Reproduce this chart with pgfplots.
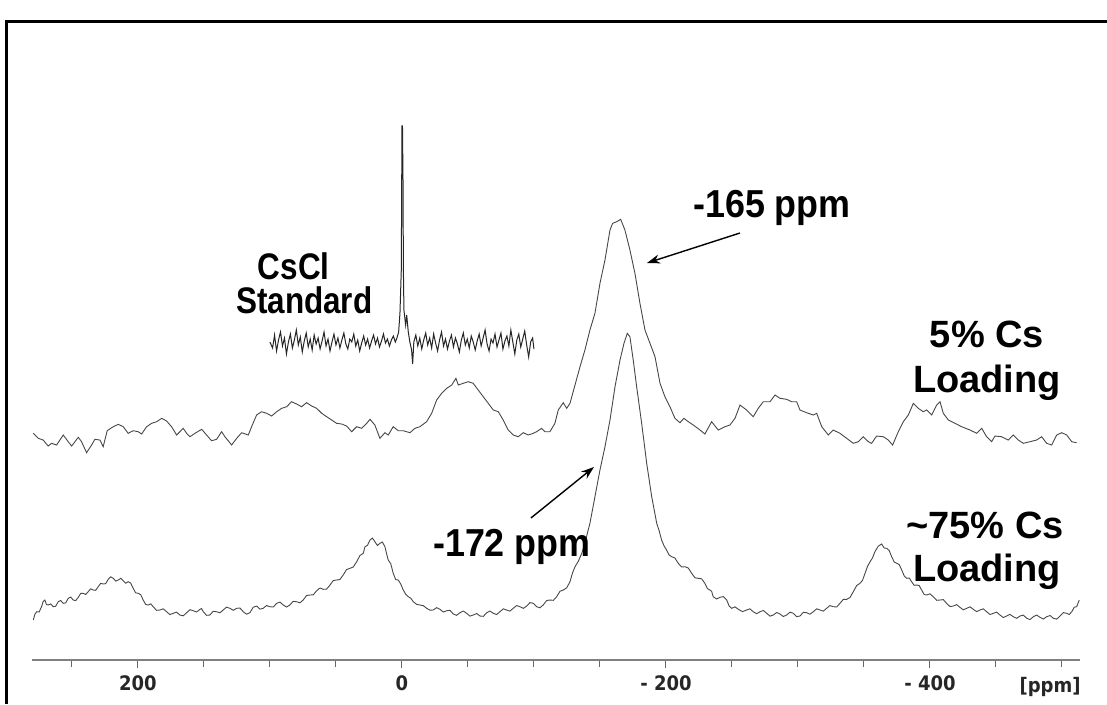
\documentclass[border=0pt]{standalone}
\usepackage{pgfplots}
\pgfplotsset{compat=1.18}
\usepackage{pgfplotstable}
\usepackage{fontspec}
\setmainfont{Liberation Sans}
\newfontfamily\tickfont{DejaVu Sans Condensed}
\usetikzlibrary{arrows.meta}

\pgfplotstableread{
ppm h
279.3 226.7
275.5 221.7
271.8 220
268.0 214
265.4 216.7
261.6 215
256.6 225
252.8 218.3
250.2 214
245.2 222.7
242.7 218.3
238.9 207.3
235.1 215
232.6 220.7
228.8 220
226.3 213.3
223.3 229.3
218.7 233.3
214.9 235.7
211.1 233.3
207.4 226.7
203.6 229.3
199.8 228.3
197.2 226
193.4 233.3
189.6 236.7
185.8 238.3
182.0 241.7
178.3 239
174.5 233.3
170.7 225
168.2 228.3
165.7 231.7
163.1 226.7
160.6 223.3
156.8 226.7
151.7 230.7
148.0 225
144.2 219.3
140.4 220.7
136.6 228.3
134.1 223.3
129.0 215
125.2 221.7
121.4 227.3
116.4 225
113.9 233.3
110.1 245
106.3 248.3
102.5 246.7
98.7 244
94.9 248.3
91.1 251.7
87.3 253.3
83.6 258.3
79.8 256
76.0 253.3
72.2 257.3
68.4 254
64.6 251.7
60.8 246.7
57.0 243.3
53.3 240
49.5 236.7
45.7 236
41.9 234
38.1 228.3
34.3 233.3
30.5 231.7
26.7 236.7
24.2 240.7
20.5 235
16.7 221.7
12.9 227.3
10.4 225
6.6 233.3
2.8 229.3
-1.0 229.3
-6.1 227.3
-9.8 231.7
-13.6 233.3
-18.7 238.3
-22.5 246.7
-26.3 260
-30.1 266.7
-33.9 271.7
-37.7 275
-40.9 281.7
-42.7 275
-46.4 276.7
-50.2 278.3
-54.0 276.7
-57.8 270
-61.6 263.3
-65.4 256.7
-69.2 250
-73.0 248.3
-76.7 240
-80.5 230
-84.3 225
-88.1 223.3
-91.9 227.3
-95.7 225
-99.5 226.7
-102.0 228.3
-105.8 231.7
-108.3 228.3
-112.1 228.3
-115.9 236.7
-118.4 250
-122.2 257.3
-124.8 251.7
-127.3 256.7
-131.1 275
-134.9 293.3
-138.6 310
-142.4 330
-146.2 346.7
-150.0 376.7
-153.8 400
-157.6 430
-159.6 436.7
-162.7 438.3
-165.7 440.7
-168.9 430
-172.7 410
-176.5 386.7
-180.3 356.7
-184.1 330
-187.9 316.7
-191.7 303.3
-195.5 276.7
-199.2 263.3
-203.0 253.3
-206.8 241.7
-210.6 237.3
-213.6 241.7
-216.9 238.3
-220.7 235
-225.8 230
-229.5 226
-234.6 238.3
-239.6 230
-244.7 233.3
-248.5 235
-252.3 241.7
-256.1 255
-261.1 250
-266.1 243.3
-269.9 251.7
-273.7 258.3
-278.8 258.3
-282.6 265
-286.4 261.7
-291.4 260.7
-295.2 258.3
-299.0 258.3
-301.5 250
-306.6 247.3
-311.6 245
-314.2 246.7
-318.0 233.3
-323.0 225
-326.7 230
-331.8 226.7
-336.9 221.7
-341.9 216.7
-345.7 218.3
-349.5 223.3
-353.3 218.3
-355.8 216.7
-359.6 224
-364.6 223.3
-368.4 220
-371.7 215
-376.0 228.3
-379.8 238.3
-383.6 245
-387.4 256.7
-391.1 251.7
-394.9 248.3
-397.5 250
-401.3 245
-405.1 255
-407.6 258.3
-410.1 246.7
-413.9 240
-418.9 236.7
-424.0 233.3
-430.3 230
-435.4 226.7
-439.2 231.7
-442.9 223.3
-446.7 218.3
-449.2 224
-454.3 223.3
-459.3 220
-463.1 225
-466.9 220
-470.7 216.7
-475.8 218.3
-480.8 220
-484.6 223.3
-488.4 216.7
-492.2 215
-496.0 225
-499.8 227.3
-503.6 225
-507.4 218.3
-511.1 217.3
}\fivepct

\pgfplotstableread{
ppm h
279.3 40
278.0 46
276.7 48.3
274.9 48
273.0 53.3
271.8 58.6
270.5 60
269.3 55.5
268.0 55
266.1 56.2
264.2 53.3
262.3 53.8
260.4 58.3
258.5 59.5
256.6 56.7
254.7 57.2
252.8 61.7
250.9 62.9
249.0 60
247.1 59.4
245.2 62.7
243.3 66.7
241.4 66.7
239.6 65.5
237.7 68.3
235.8 71.2
233.9 70
232.0 69.7
230.1 73.3
228.2 76.7
226.3 76
224.4 76.4
222.5 80.7
220.6 83.2
218.7 81.7
216.8 78.9
214.9 80
213.0 81.7
211.1 79.3
209.3 76.8
207.4 78.3
205.5 77
203.6 71.7
201.7 67.2
199.8 66.7
197.9 65.4
196.0 60
194.1 55.5
192.2 55
190.3 56.2
188.4 53.3
185.9 49.7
183.3 50
180.8 51.2
178.3 48.3
175.8 45.5
173.3 46.7
170.8 47.9
168.2 45
165.7 44.2
163.1 47.3
160.6 50.3
158.1 49.3
155.6 48
153.0 50.7
151.8 51.5
150.5 48.3
148.0 44.7
145.5 45
143.0 48.7
140.4 48.3
137.9 47.2
135.4 50
132.9 52.9
130.3 51.7
127.8 49.7
125.2 51.7
122.7 52
120.2 48.3
117.7 45.8
115.2 47.3
112.7 52.7
110.1 54
107.6 50.9
105.1 51.7
102.6 54.5
100.0 53.3
97.5 53
94.9 56.7
92.4 57.9
89.9 55
87.4 53
84.9 55
82.4 58.7
79.8 58.3
77.3 57.2
74.8 60
72.3 64.5
69.7 65
67.2 65.2
64.6 69.3
62.1 72
59.6 70.7
57.1 70.9
54.5 75
52.0 79.5
49.5 80
47.0 80.5
44.5 85
42.0 90.4
39.4 91.7
36.9 93
34.3 98.3
31.8 104.5
29.3 106.7
28.0 113.3
26.1 114.7
24.2 120
22.4 122
20.5 118.3
18.6 114.5
16.7 116.7
14.8 118
12.9 113.3
11.7 106.7
10.4 100
8.5 96.4
6.6 86.7
4.7 80.4
2.8 80
0.9 76
-1.0 70
-2.9 65.7
-4.8 63.3
-6.7 61.8
-8.6 58.3
-11.1 55.7
-13.6 55
-16.2 54.4
-18.7 51.7
-21.2 49.9
-23.7 50
-26.3 52.4
-28.8 50.7
-31.4 48
-33.9 49.3
-36.4 49.7
-38.9 46
-41.4 44.7
-43.9 47.3
-46.5 49
-49.0 46.7
-51.5 43.9
-54.0 45
-56.6 46.5
-59.1 44
-61.7 43.7
-64.2 47.3
-66.7 49
-69.2 46.7
-71.7 45.5
-74.2 48.3
-76.8 51.2
-79.3 50
-81.8 48.9
-84.3 51.7
-86.9 54.5
-89.4 53.3
-92.0 51.7
-94.5 54
-97.0 57.4
-99.5 56.7
-102.0 53.3
-104.5 52.2
-107.0 55
-109.6 59.5
-112.1 60
-114.7 59.7
-117.2 63.3
-119.7 68.7
-122.2 70
-124.8 72.2
-127.3 78.3
-129.2 87
-131.1 93.3
-133.7 99
-136.2 106.7
-138.6 116.7
-140.5 127
-142.4 136.7
-146.2 163.3
-150.0 190
-153.8 213.3
-157.6 240
-161.4 273.3
-165.2 300
-168.2 316.7
-170.7 326.7
-172.7 323.3
-175.2 300
-177.8 273.3
-181.6 236.7
-185.4 196.7
-189.2 163.3
-193.0 136.7
-194.9 129
-196.7 120
-198.6 114
-200.5 110
-202.4 105
-204.3 103.3
-206.8 102
-209.3 96.7
-211.9 93
-214.4 93.3
-216.9 92
-219.5 86.7
-222.0 82.2
-224.5 81.7
-227.0 81.2
-229.5 76.7
-231.4 71.4
-233.3 70
-234.6 68.7
-235.8 63.3
-238.4 61
-240.9 62.7
-243.5 63.4
-246.0 60
-247.9 53.9
-249.8 51.7
-252.3 53.2
-254.8 50.7
-258.0 48.4
-261.1 50
-263.6 51.2
-266.1 48.3
-268.7 46.3
-271.2 48.3
-273.8 49.5
-276.3 46.7
-278.8 43.9
-281.3 45
-283.9 47.5
-286.4 46
-288.9 43.5
-291.4 45
-294.0 47.9
-296.5 46.7
-299.0 43.4
-301.5 44
-304.1 47.7
-306.6 47.3
-309.1 45.8
-311.6 48.3
-314.2 51.2
-316.7 50
-319.2 48.9
-321.7 51.7
-324.2 54.5
-326.7 53.3
-329.3 53
-331.8 56.7
-334.4 60.7
-336.9 60.7
-339.4 62.5
-341.9 68.3
-344.5 74.5
-347.0 76.7
-348.9 79.7
-350.8 86.7
-352.7 93.7
-354.5 98
-356.4 102
-358.3 108.3
-360.9 114
-363.4 116
-365.3 112
-367.2 111.7
-369.1 109.5
-371.0 103.3
-372.9 98
-374.8 96.7
-376.7 95.4
-378.6 90
-380.5 84
-382.4 81.7
-384.3 82
-386.1 78.3
-388.0 74.7
-389.9 75
-391.8 74.5
-393.7 70
-395.6 65.5
-397.5 65
-400.0 66.2
-402.5 63.3
-405.1 59.7
-407.6 60
-410.1 60.4
-412.6 56.7
-415.2 53.4
-417.7 54
-420.2 55.4
-422.7 52.7
-425.3 50.2
-427.8 51.7
-430.3 53.2
-432.8 50.7
-435.4 48.4
-437.9 50
-440.4 51.2
-442.9 48.3
-445.5 45.5
-448.0 46.7
-450.5 47.9
-453.0 45
-455.6 42.5
-458.1 44
-460.6 45.7
-463.1 43.3
-465.7 41.7
-468.2 44
-470.8 44.9
-473.3 41.7
-475.8 40.5
-478.3 43.3
-480.8 45
-483.3 42.7
-485.9 41
-488.4 43.3
-491.0 44.5
-493.5 41.7
-496.0 40.9
-498.5 44
-501.1 47.4
-503.6 46.7
-505.5 45.5
-507.4 48.3
-509.3 52.8
-511.1 53.3
-513.1 60
}\seventyfive

\pgfplotstableread{
ppm h
100 318
98 312
96.5 325
95 309
93.5 320
92 328
90.5 314
89 322
87.5 306
86 318
84.5 326
83 312
81.5 320
80 330
78.5 315
77 323
75.5 308
74 319
72.5 327
71 313
69.5 321
68 310
66.5 325
65 316
63.5 322
62 311
60.5 319
59 328
57.5 314
56 321
54.5 309
53 318
51.5 326
50 315
48.5 322
47 312
45.5 320
44 327
42.5 316
41 311
39.5 321
38 318
36.5 326
35 314
33.5 320
32 309
30.5 317
29 324
27.5 315
26 321
24.5 312
23 319
21.5 325
20 316
18.5 322
17 313
15.5 319
14 326
12.5 317
11 321
9.5 314
8 320
6.5 324
5 318
3.8 322
2.5 328
1.5 347
0.5 390
0.2 470
0 534
-0.4 534
-0.8 480
-1.1 390
-1.5 350
-2.8 335
-3.6 345
-4.8 328
-6 318
-7.3 310
-8.1 296
-9 318
-10.5 325
-12 314
-13.5 322
-15 311
-16.5 320
-18 327
-19.5 315
-21 322
-22.5 312
-24 326
-25.5 317
-27 309
-28.5 320
-30 328
-31.5 314
-33 321
-34.5 311
-36 319
-37.5 325
-39 313
-40.5 322
-42 316
-43.5 308
-45 320
-46.5 327
-48 315
-49.5 321
-51 312
-52.5 324
-54 318
-55.5 310
-57 319
-58.5 326
-60 314
-61.5 322
-63 330
-64.5 316
-66 309
-67.5 321
-69 317
-70.5 326
-72 313
-73.5 320
-75 327
-76.5 311
-78 319
-79.5 324
-81 314
-82.5 330
-84 318
-85.5 306
-87 320
-88.5 326
-90 313
-91.5 321
-93 329
-94.5 315
-96 303
-97.5 318
-99 322
-100 311
}\cscl

\begin{document}
\begin{tikzpicture}
\begin{axis}[
  x=1.32pt, y=1pt,
  x dir=reverse,
  xmin=-514, xmax=280, ymin=0, ymax=630,
  axis x line=bottom,
  axis y line=none,
  x axis line style={-, draw=black!50, line width=2pt},
  xtick={200,0,-200,-400},
  xticklabels={200,0,- 200,- 400},
  minor xtick={250,150,100,50,-50,-100,-150,-250,-300,-350,-450,-500},
  tick align=outside,
  major tick length=8pt,
  minor tick length=7pt,
  every tick/.style={draw=black!60, line width=1pt},
  xticklabel style={font=\tickfont\bfseries\fontsize{20}{20}\selectfont, text=black!85, yshift=-4pt},
  clip=false,
]
\addplot[draw=black!72, line width=0.9pt] table[x=ppm, y=h] {\fivepct};
\addplot[draw=black!72, line width=0.9pt] table[x=ppm, y=h] {\seventyfive};
\addplot[draw=black!85, line width=1pt] table[x=ppm, y=h] {\cscl};

\draw[-{Stealth[length=13pt,width=9pt]}, line width=1.4pt] (axis cs:-256.1,427) -- (axis cs:-185.6,397);
\draw[-{Stealth[length=13pt,width=9pt]}, line width=1.4pt] (axis cs:-97.7,142) -- (axis cs:-145.5,193);

\begin{scope}[every node/.style={font=\fontsize{39}{39}\selectfont\bfseries, inner sep=0pt, anchor=base}]
\node[xscale=0.92] at (axis cs:-280.3,443) {-165 ppm};
\node[xscale=0.92] at (axis cs:-83.3,104) {-172 ppm};
\node[xscale=0.85, font=\fontsize{37}{37}\selectfont\bfseries] at (axis cs:82,381) {CsCl};
\node[xscale=0.85, font=\fontsize{37}{37}\selectfont\bfseries] at (axis cs:74,347) {Standard};
\end{scope}
\begin{scope}[every node/.style={font=\fontsize{38}{38}\selectfont\bfseries, inner sep=0pt, anchor=base}]
\node at (axis cs:-443.2,313) {5\% Cs};
\node at (axis cs:-443.2,268) {Loading};
\node at (axis cs:-441.7,122) {\textasciitilde 75\% Cs};
\node at (axis cs:-443.2,79) {Loading};
\end{scope}
\node[font=\tickfont\bfseries\fontsize{20}{20}\selectfont, text=black!85, anchor=base, inner sep=0pt] at (axis cs:-491,-32) {[ppm]};

\draw[line width=3pt] (axis cs:299.2,-44) -- (axis cs:299.2,638) -- (axis cs:-534.1,638);
\coordinate (BL) at (axis cs:304.5,-44);
\coordinate (TR) at (axis cs:-534.1,660);
\end{axis}
\pgfresetboundingbox
\path[use as bounding box] (BL) rectangle (TR);
\end{tikzpicture}
\end{document}
